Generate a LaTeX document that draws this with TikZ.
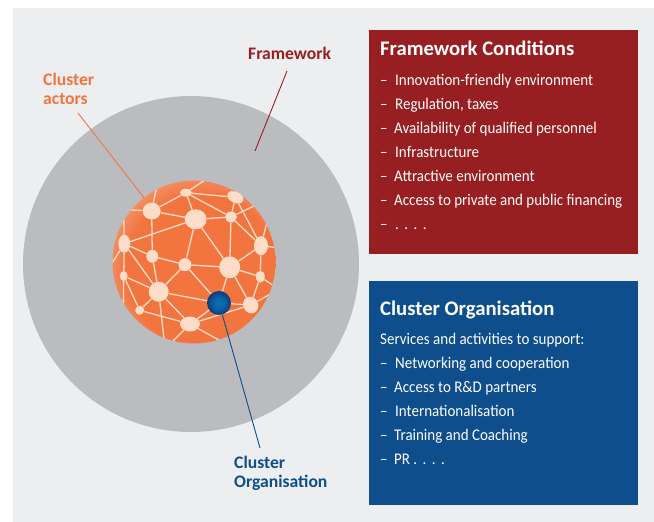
\documentclass[tikz,border=0pt]{standalone}
\usepackage{fontspec}
\setmainfont{Carlito}
\newfontfamily\itemfont[FakeStretch=0.92]{Carlito}
\usetikzlibrary{shapes.geometric}
\pgfdeclarelayer{back}
\pgfdeclarelayer{links}
\pgfsetlayers{back,links,main}
\definecolor{panel}{HTML}{ECEEF0}
\definecolor{ring}{HTML}{BBBCC0}
\definecolor{fwred}{HTML}{971F21}
\definecolor{coblue}{HTML}{0F4E8D}
\definecolor{actor}{HTML}{F2743F}
\definecolor{hub}{HTML}{FDDCC8}
\definecolor{spokecol}{HTML}{FDDCC8}
\definecolor{ballmid}{HTML}{0A72B8}
\definecolor{ballrim}{HTML}{0B3C78}
\pgfdeclareradialshading{spherefill}{\pgfpoint{4bp}{-4bp}}{
  color(0bp)=(actor); color(23bp)=(actor); color(27bp)=(actor!85!white); color(31bp)=(actor!58!white); color(50bp)=(actor!58!white)}
\pgfdeclareradialshading{ballfill}{\pgfpoint{0bp}{0bp}}{
  color(0bp)=(ballmid); color(12bp)=(ballmid!70!ballrim); color(25bp)=(ballrim); color(50bp)=(ballrim)}
\tikzset{
  hubnode/.style={ellipse,fill=hub,draw=none,inner sep=0pt},
  spoke/.style={draw=spokecol,line width=1.3pt},
  leader/.style={line width=0.9pt},
  panelbox/.style={draw=none,minimum width=269pt,anchor=north west,inner sep=0pt},
  boxtitle/.style={anchor=base west,inner sep=0pt,text=white,font=\fontsize{20.7}{22}\selectfont\bfseries},
  boxitem/.style={anchor=base west,inner sep=0pt,text=white,font=\itemfont\fontsize{16.3}{19}\selectfont},
  lab/.style={anchor=base west,inner sep=0pt,font=\fontsize{17.6}{19}\selectfont\bfseries},
}
\begin{document}
\begin{tikzpicture}[x=1pt,y=-1pt]
\useasboundingbox (0,0) rectangle (654,522);
\begin{pgfonlayer}{back}
\fill[white] (0,0) rectangle (654,522);
\fill[panel] (13,8) rectangle (654,522);
\node[circle,fill=ring,minimum size=336pt,inner sep=0pt] (framework) at (191,264) {};
\node[circle,shading=spherefill,minimum size=163pt,inner sep=0pt] (sphere) at (194,262) {};
\end{pgfonlayer}
% hubs
\node[hubnode,minimum width=18pt,minimum height=17pt] (A) at (151.7,211) {};
\node[hubnode,minimum width=12pt,minimum height=8pt] (B) at (186,192.7) {};
\node[hubnode,minimum width=22pt,minimum height=20pt] (C) at (195.7,219.3) {};
\node[hubnode,minimum width=12pt,minimum height=11pt] (D) at (231,217) {};
\node[hubnode,minimum width=17pt,minimum height=11pt,rotate=-25] (E) at (235.3,197.3) {};
\node[hubnode,minimum width=14pt,minimum height=19pt] (F) at (261,245.7) {};
\node[hubnode,minimum width=9pt,minimum height=12pt] (G) at (260.3,276.7) {};
\node[hubnode,minimum width=21pt,minimum height=22pt] (H) at (229.7,267.3) {};
\node[hubnode,minimum width=13pt,minimum height=13pt] (I) at (185,264.7) {};
\node[hubnode,minimum width=12pt,minimum height=13pt] (J) at (152.3,256.3) {};
\node[hubnode,minimum width=12pt,minimum height=18pt] (K) at (124.3,243.7) {};
\node[hubnode,minimum width=8pt,minimum height=10pt] (L) at (123.7,276) {};
\node[hubnode,minimum width=20pt,minimum height=20pt] (M) at (158.7,291.7) {};
\node[hubnode,minimum width=9pt,minimum height=9pt] (N) at (139.7,310.3) {};
\node[hubnode,minimum width=20pt,minimum height=15pt] (O) at (190,324) {};
\node[hubnode,minimum width=15pt,minimum height=17pt,rotate=25] (P) at (250.7,305) {};
\node[circle,shading=ballfill,minimum size=24pt,inner sep=0pt] (ball) at (219,303) {};
% free ends of the spokes, on the rim
\coordinate (r1) at (112,209);
\coordinate (r2) at (159,175);
\coordinate (r3) at (208,178);
\coordinate (r4) at (256,205);
\coordinate (r5) at (267,222);
\coordinate (r6) at (280,248);
\coordinate (r7) at (274,286);
\coordinate (r8) at (274,292);
\coordinate (r9) at (165,348);
\coordinate (r10) at (168,346);
\coordinate (r11) at (226,344);
\coordinate (r12) at (109,268);
\coordinate (r13) at (123,180);
\coordinate (r14) at (123,330);
\begin{pgfonlayer}{links}
\begin{scope}
\clip (194,262) circle (81.5pt);
\foreach \a/\b in {A/B,A/C,B/C,B/D,B/E,D/E,C/D,A/J,K/C,K/J,J/M,K/M,J/I,C/I,I/M,I/H,C/H,D/H,H/F,H/G,F/G,H/P,H/ball,I/ball,M/ball,ball/O,ball/P,O/P,G/P,E/F,D/F,K/L,L/M,L/N,N/M,N/O,M/O,
  A/r1,A/r2,B/r3,D/r4,F/r5,F/r6,G/r7,P/r8,M/r9,O/r10,O/r11,K/r12,K/r13,L/r14}
  \draw[spoke] (\a) -- (\b);
\end{scope}
\end{pgfonlayer}
% labels
\node[lab,text=fwred] (fwlabel) at (248,59) {Framework};
\node[lab,text=actor] (actlabel) at (43,85) {Cluster};
\node[lab,text=actor] (actlabelb) at (43,104) {actors};
\node[lab,text=coblue] (orglabel) at (234,468) {Cluster};
\node[lab,text=coblue] (orglabelb) at (234,487) {Organisation};
% leaders
\coordinate (fwa) at (287,71);
\coordinate (fwb) at (255,151);
\coordinate (acta) at (78,113);
\coordinate (orgb) at (260,448);
\draw[leader,draw=fwred] (fwa) -- (fwb);
\draw[leader,draw=actor] (acta) -- (sphere);
\draw[leader,draw=coblue] (ball) -- (orgb);
% boxes
\node[panelbox,fill=fwred,minimum height=224pt] (fwbox) at (369,30) {};
\node[panelbox,fill=coblue,minimum height=224pt] (cobox) at (369,281) {};
\node[boxtitle] (t1) at (380,55) {Framework Conditions};
\foreach \y/\x/\t in {85/395/Innovation-friendly environment,109/395/{Regulation, taxes},133/394/Availability of qualified personnel,157/395/Infrastructure,181/394/Attractive environment,205/394/Access to private and public financing,229/395/{.\,\,.\,\,.\,\,.}}{
  \node[boxitem] at (380,\y) {–};
  \node[boxitem] at (\x,\y) {\t};
}
\node[boxtitle] (t2) at (380,315) {Cluster Organisation};
\node[boxitem] (t3) at (380,344) {Services and activities to support:};
\foreach \y/\x/\t in {368/395/Networking and cooperation,392/394/Access to R\&D partners,416/395/Internationalisation,440/394/Training and Coaching,464/394/{PR .\,\,.\,\,.\,\,.}}{
  \node[boxitem] at (380,\y) {–};
  \node[boxitem] at (\x,\y) {\t};
}
\end{tikzpicture}
\end{document}
